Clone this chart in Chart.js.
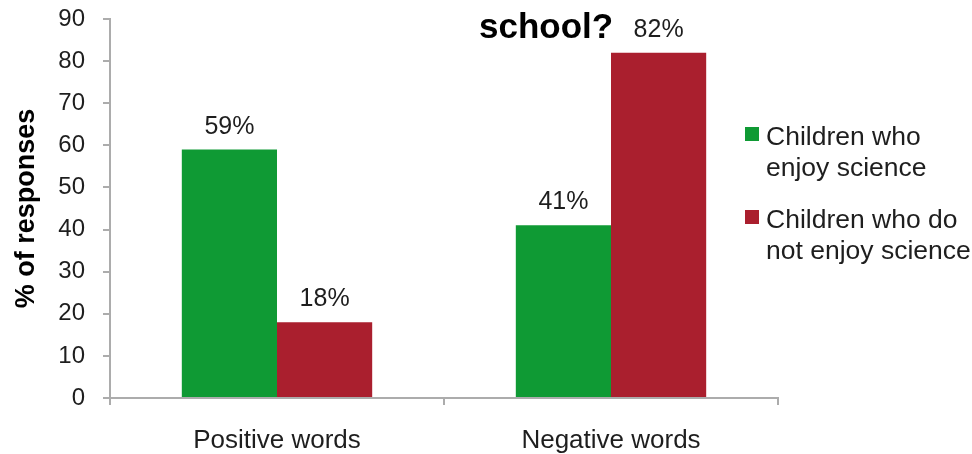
<!DOCTYPE html>
<html>
<head>
<meta charset="utf-8">
<script src="https://cdn.jsdelivr.net/npm/chart.js@4.4.1/dist/chart.umd.min.js"></script>
<style>
  html, body { margin: 0; padding: 0; background: #fff; }
  #wrap { width: 972px; height: 454px; position: relative; }
</style>
</head>
<body>
<div id="wrap"><canvas id="chart"></canvas></div>
<script>
const categories = ['Positive words', 'Negative words'];
const seriesNames = ['Children who enjoy science', 'Children who do not enjoy science'];
const legendLines = [['Children who', 'enjoy science'], ['Children who do', 'not enjoy science']];
const enjoyValues = [59, 41];
const notEnjoyValues = [18, 82];
const yTicks = [0, 10, 20, 30, 40, 50, 60, 70, 80, 90];
const titleText = 'school?';
const yAxisTitle = '% of responses';

const FONT = "'Liberation Sans', Arial, sans-serif";
const GREEN = '#0f9a34';
const RED = '#aa1f2e';
const AXIS = '#acacac';
const TEXT = '#1e1e1e';

// value labels above each bar
const barLabels = {
  id: 'barLabels',
  afterDatasetsDraw(chart) {
    const ctx = chart.ctx;
    ctx.save();
    ctx.font = '25px ' + FONT;
    ctx.fillStyle = TEXT;
    ctx.textAlign = 'center';
    ctx.textBaseline = 'alphabetic';
    chart.data.datasets.forEach((ds, i) => {
      chart.getDatasetMeta(i).data.forEach((bar, j) => {
        ctx.fillText(ds.data[j] + '%', bar.x, bar.y - 16);
      });
    });
    ctx.restore();
  }
};

// wrapped legend on the right, plus the clipped title line
const sideText = {
  id: 'sideText',
  afterDraw(chart) {
    const ctx = chart.ctx;
    ctx.save();
    ctx.font = 'bold 35px ' + FONT;
    ctx.fillStyle = '#000';
    ctx.textAlign = 'left';
    ctx.textBaseline = 'alphabetic';
    ctx.fillText(titleText, 479, 38);

    ctx.font = '26.5px ' + FONT;
    const x0 = 745;
    const tops = [145, 228];
    chart.data.datasets.forEach((ds, i) => {
      ctx.fillStyle = ds.backgroundColor;
      ctx.fillRect(x0, tops[i] - 18, 14, 14);
      ctx.fillStyle = TEXT;
      legendLines[i].forEach((line, k) => {
        ctx.fillText(line, x0 + 21, tops[i] + k * 31);
      });
    });
    ctx.restore();
  }
};

const chart = new Chart(document.getElementById('chart'), {
  type: 'bar',
  data: {
    labels: categories,
    datasets: [
      {
        label: seriesNames[0],
        data: enjoyValues,
        backgroundColor: GREEN,
        barPercentage: 1,
        categoryPercentage: 0.57,
      },
      {
        label: seriesNames[1],
        data: notEnjoyValues,
        backgroundColor: RED,
        barPercentage: 1,
        categoryPercentage: 0.57,
      },
    ],
  },
  options: {
    responsive: true,
    maintainAspectRatio: false,
    animation: false,
    devicePixelRatio: 1,
    layout: {
      padding: { top: 19, right: 194, bottom: 0, left: 0 },
    },
    plugins: {
      legend: { display: false },
      title: { display: false },
      tooltip: { enabled: false },
    },
    scales: {
      x: {
        afterFit(scale) {
          scale.height = 56; // bottom edge of the plot
        },
        grid: {
          drawOnChartArea: false,
          drawTicks: true,
          tickLength: 7,
          color: AXIS,
          lineWidth: 2,
        },
        border: { color: AXIS, width: 2 },
        ticks: {
          color: TEXT,
          padding: 20,
          font: { family: FONT, size: 26 },
        },
      },
      y: {
        min: 0,
        max: 90,
        afterFit(scale) {
          scale.width = 110; // left edge of the plot
          scale.paddingTop = 0;
          scale.paddingBottom = 0;
        },
        afterBuildTicks(scale) {
          scale.ticks = yTicks.map(v => ({ value: v }));
        },
        grid: {
          drawOnChartArea: false,
          drawTicks: true,
          tickLength: 7,
          color: AXIS,
          lineWidth: 2,
        },
        border: { color: AXIS, width: 2 },
        ticks: {
          color: TEXT,
          padding: 18,
          font: { family: FONT, size: 24 },
        },
        title: {
          display: true,
          text: yAxisTitle,
          color: '#000',
          padding: { top: 10, bottom: 0 },
          font: { family: FONT, size: 27, weight: 'bold' },
        },
      },
    },
  },
  plugins: [barLabels, sideText],
});
</script>
</body>
</html>
